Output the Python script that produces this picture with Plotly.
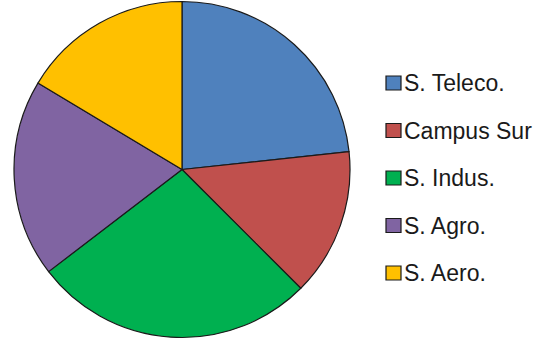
import plotly.graph_objects as go

categories = ["S. Teleco.", "Campus Sur", "S. Indus.", "S. Agro.", "S. Aero."]
values = [23.3, 14.2, 27.1, 19.0, 16.4]
colors = ["#4F81BD", "#C0504D", "#00B050", "#8064A2", "#FFC000"]

W, H = 546, 340

fig = go.Figure(go.Pie(
    labels=categories,
    values=values,
    sort=False,
    direction="clockwise",
    rotation=0,
    textinfo="none",
    hoverinfo="label+value",
    marker=dict(colors=colors, line=dict(color="#1a1a1a", width=1.2)),
    domain=dict(x=[14 / W, 350 / W], y=[2 / H, 339 / H]),
    showlegend=False,
))

# manual legend
y0 = 83.0
step = 47.5
shapes = []
annotations = []
for i, (name, col) in enumerate(zip(categories, colors)):
    yc = y0 + i * step
    shapes.append(dict(
        type="rect", xref="paper", yref="paper",
        x0=386 / W, x1=401 / W,
        y0=1 - (yc + 7) / H, y1=1 - (yc - 7) / H,
        fillcolor=col, line=dict(color="#1a1a1a", width=1.2),
    ))
    annotations.append(dict(
        x=402 / W, y=1 - (yc + 0) / H, xref="paper", yref="paper",
        xanchor="left", yanchor="middle", showarrow=False,
        text=name, font=dict(family="Liberation Sans, Arial, sans-serif", size=23, color="#1a1a1a"),
    ))

fig.update_layout(
    width=W, height=H,
    margin=dict(l=0, r=0, t=0, b=0),
    paper_bgcolor="white",
    plot_bgcolor="white",
    shapes=shapes,
    annotations=annotations,
)

fig.write_html(
    "out.html",
    config={"displayModeBar": False},
    post_script="document.body.style.margin='0';document.body.style.overflow='hidden';",
)
